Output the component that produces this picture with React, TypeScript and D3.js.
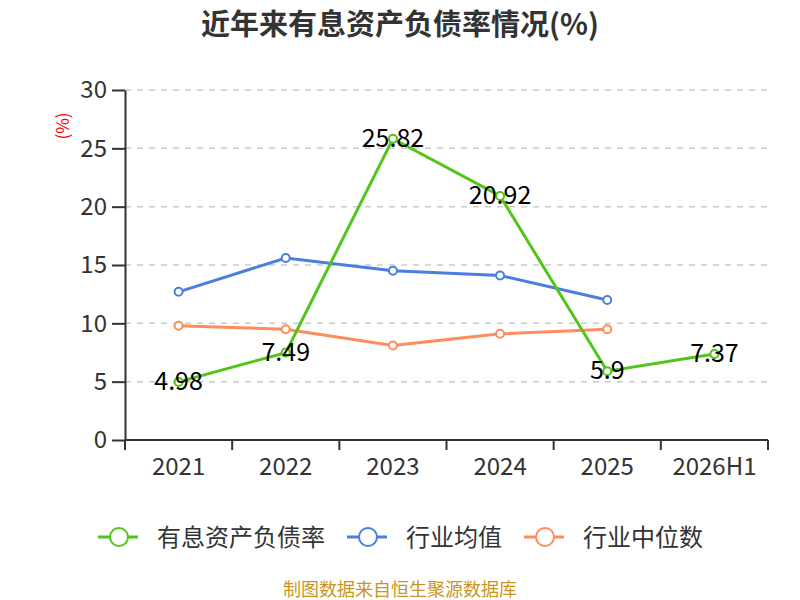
import * as d3 from 'd3';
import { useEffect, useRef } from 'react';

const categories = ['2021', '2022', '2023', '2024', '2025', '2026H1'];
const debtRatio = [4.98, 7.49, 25.82, 20.92, 5.9, 7.37];
const industryAvg = [12.7, 15.6, 14.5, 14.1, 12.0, null];
const industryMedian = [9.8, 9.5, 8.1, 9.1, 9.5, null];
const yTicks = [0, 5, 10, 15, 20, 25, 30];

const seriesNames = ['有息资产负债率', '行业均值', '行业中位数'];
const colors = ['#52c41a', '#4a7fe0', '#ff8c5a'];

const FONT = '"Noto Sans CJK SC", "Noto Sans", sans-serif';

export default function App() {
  const ref = useRef<SVGSVGElement | null>(null);

  useEffect(() => {
    const svg = d3.select(ref.current);
    const width = 800;
    const height = 600;
    const margin = { top: 90, right: 32, bottom: 160, left: 125 };

    svg.selectAll('*').remove();
    svg.attr('width', width).attr('height', height).style('font-family', FONT);

    svg.append('text')
      .attr('x', width / 2).attr('y', 35)
      .attr('text-anchor', 'middle')
      .attr('font-size', 29).attr('font-weight', 'bold').attr('fill', '#333')
      .text('近年来有息资产负债率情况(%)');

    const x = d3.scaleBand<string>()
      .domain(categories)
      .range([margin.left, width - margin.right]);

    const y = d3.scaleLinear()
      .domain([0, 30])
      .range([height - margin.bottom, margin.top]);

    // grid
    svg.append('g')
      .selectAll('line')
      .data(yTicks.filter(t => t > 0))
      .join('line')
      .attr('x1', margin.left).attr('x2', width - margin.right)
      .attr('y1', d => y(d)).attr('y2', d => y(d))
      .attr('stroke', '#ccc').attr('stroke-width', 1.5)
      .attr('stroke-dasharray', '6,6');

    // y axis
    const yAxis = svg.append('g')
      .attr('transform', `translate(${margin.left},0)`)
      .call(d3.axisLeft(y).tickValues(yTicks).tickSize(13).tickSizeOuter(0).tickPadding(5));
    yAxis.select('.domain').attr('stroke', '#333').attr('stroke-width', 2);
    yAxis.selectAll('.tick line').attr('stroke', '#333').attr('stroke-width', 2);
    yAxis.selectAll('.tick text').attr('font-size', 24).attr('fill', '#333').attr('font-family', FONT);

    // x axis
    const xAxisG = svg.append('g').attr('transform', `translate(0,${y(0)})`);
    xAxisG.append('line')
      .attr('x1', margin.left).attr('x2', width - margin.right)
      .attr('stroke', '#333').attr('stroke-width', 2);
    const bounds = categories.map(c => x(c)!).concat([x(categories[categories.length - 1])! + x.bandwidth()]);
    xAxisG.selectAll('line.tk')
      .data(bounds)
      .join('line')
      .attr('class', 'tk')
      .attr('x1', d => d).attr('x2', d => d)
      .attr('y1', 0).attr('y2', 10)
      .attr('stroke', '#333').attr('stroke-width', 2);
    xAxisG.selectAll('text')
      .data(categories)
      .join('text')
      .attr('x', d => x(d)! + x.bandwidth() / 2)
      .attr('y', 35)
      .attr('text-anchor', 'middle')
      .attr('font-size', 24).attr('fill', '#333')
      .text(d => d);

    // y unit label
    svg.append('text')
      .attr('transform', `translate(69,126) rotate(-90)`)
      .attr('text-anchor', 'middle')
      .attr('font-size', 17).attr('fill', 'red')
      .text('(%)');

    const cx = (i: number) => x(categories[i])! + x.bandwidth() / 2;
    const allSeries = [debtRatio, industryAvg, industryMedian];
    const drawOrder = [1, 2, 0];

    drawOrder.forEach(si => {
      const vals = allSeries[si];
      const pts = vals.map((v, i) => ({ v, i })).filter(p => p.v != null) as { v: number; i: number }[];
      const line = d3.line<{ v: number; i: number }>()
        .x(p => cx(p.i))
        .y(p => y(p.v));
      svg.append('path')
        .datum(pts)
        .attr('fill', 'none')
        .attr('stroke', colors[si])
        .attr('stroke-width', 3)
        .attr('d', line);
      svg.append('g')
        .selectAll('circle')
        .data(pts)
        .join('circle')
        .attr('cx', p => cx(p.i))
        .attr('cy', p => y(p.v))
        .attr('r', 4)
        .attr('fill', '#fff')
        .attr('stroke', colors[si])
        .attr('stroke-width', 2);
    });

    // data labels for main series
    svg.append('g')
      .selectAll('text')
      .data(debtRatio)
      .join('text')
      .attr('x', (_, i) => cx(i))
      .attr('y', d => y(d) + 8)
      .attr('text-anchor', 'middle')
      .attr('font-size', 25)
      .attr('fill', '#000')
      .text(d => String(d));

    // legend
    const legendX = [98, 347, 524];
    const legend = svg.append('g');
    seriesNames.forEach((name, i) => {
      const lx = legendX[i];
      const ly = 537;
      legend.append('line')
        .attr('x1', lx).attr('x2', lx + 40)
        .attr('y1', ly).attr('y2', ly)
        .attr('stroke', colors[i]).attr('stroke-width', 3);
      legend.append('circle')
        .attr('cx', lx + 21).attr('cy', ly).attr('r', 9)
        .attr('fill', '#fff').attr('stroke', colors[i]).attr('stroke-width', 2);
      legend.append('text')
        .attr('x', lx + 59).attr('y', ly + 9)
        .attr('font-size', 24).attr('fill', '#333')
        .text(name);
    });

    svg.append('text')
      .attr('x', width / 2).attr('y', 596)
      .attr('text-anchor', 'middle')
      .attr('font-size', 18).attr('fill', '#c8961e')
      .text('制图数据来自恒生聚源数据库');
  }, []);

  return <svg ref={ref} style={{ position: 'absolute', left: 0, top: 0 }}></svg>;
}
